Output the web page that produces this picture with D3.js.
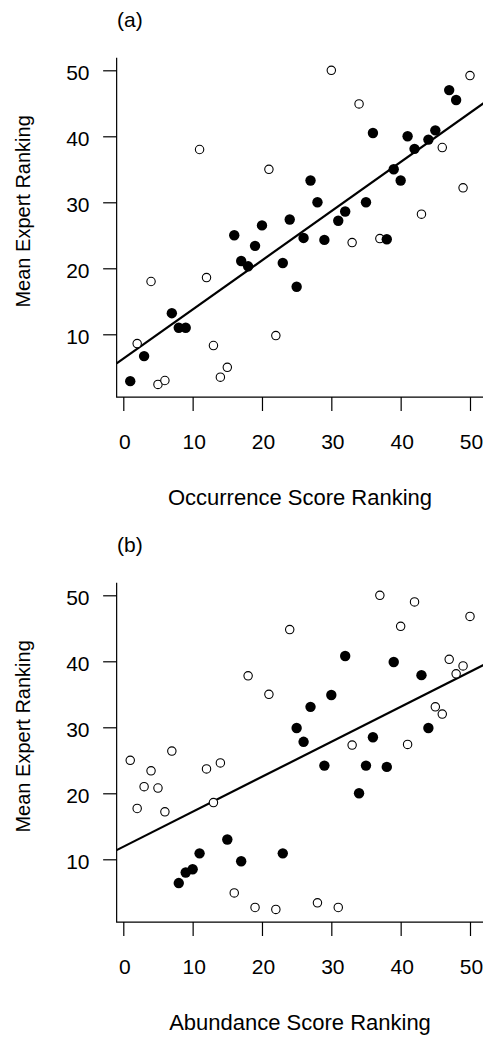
<!DOCTYPE html>
<html>
<head>
<meta charset="utf-8">
<script src="https://cdn.jsdelivr.net/npm/d3@7"></script>
<style>
  html, body { margin: 0; padding: 0; background: #fff; }
  svg { display: block; }
  text { font-family: "Liberation Sans", Arial, Helvetica, sans-serif; fill: #000; }
</style>
</head>
<body>
<svg id="chart" width="483" height="1037"></svg>
<script>
// ---------- data ----------
const xTicks = [0, 10, 20, 30, 40, 50];
const yTicks = [10, 20, 30, 40, 50];

// Panel (a): Occurrence Score Ranking vs Mean Expert Ranking
const occurrenceRank = [1,2,3,4,5,6,7,8,9,11,12,13,14,15,16,17,18,19,20,21,22,23,24,25,
  26,27,28,29,30,31,32,33,34,35,36,37,38,39,40,41,42,43,44,45,46,47,48,49,50];
const expertA = [2.9,8.6,6.7,18.0,2.4,3.0,13.2,11.0,11.0,38.0,18.6,8.3,3.5,5.0,25.0,21.1,20.3,23.4,26.5,35.0,9.8,20.8,27.4,17.2,
  24.6,33.3,30.0,24.3,50.0,27.2,28.6,23.9,44.9,30.0,40.5,24.5,24.4,35.0,33.3,40.0,38.1,28.2,39.5,40.9,38.3,47.0,45.5,32.2,49.2];
const filledA = [1,0,1,0,0,0,1,1,1, 0,0,0,0,0,1,1,1,1,1,0,0,1,1,1,
  1,1,1,1,0,1,1,0,0,1,1,0,1,1,1,1,1,0,1,1,0,1,1,0,0];
const fitA = { intercept: 6.3, slope: 0.745 };

// Panel (b): Abundance Score Ranking vs Mean Expert Ranking
const abundanceRank = [1,2,3,4,5,6,7,8,9,10,11,12,13,14,15,16,17,18,19,21,22,23,24,25,
  26,27,28,29,30,31,32,33,34,35,36,37,38,39,40,41,42,43,44,45,46,47,48,49,50];
const expertB = [25.0,17.7,21.0,23.4,20.8,17.2,26.4,6.4,8.0,8.5,10.9,23.7,18.6,24.6,13.0,4.9,9.7,37.8,2.7,35.0,2.4,10.9,44.8,29.9,
  27.8,33.1,3.4,24.2,34.9,2.7,40.8,27.3,20.0,24.2,28.5,50.0,24.0,39.9,45.3,27.4,49.0,37.9,29.9,33.1,32.0,40.3,38.1,39.3,46.8];
const filledB = [0,0,0,0,0,0,0,1,1,1,1,0,0,0,1,0,1,0,0,0,0,1,0,1,
  1,1,0,1,1,0,1,0,1,1,1,0,1,1,0,0,0,1,1,0,0,0,0,0,0];
const fitB = { intercept: 11.9, slope: 0.53 };

const panels = [
  { label: "(a)", xTitle: "Occurrence Score Ranking", yTitle: "Mean Expert Ranking",
    xs: occurrenceRank, ys: expertA, filled: filledA, fit: fitA, top: 0 },
  { label: "(b)", xTitle: "Abundance Score Ranking", yTitle: "Mean Expert Ranking",
    xs: abundanceRank, ys: expertB, filled: filledB, fit: fitB, top: 525 }
];

// ---------- drawing ----------
const svg = d3.select("#chart");
const x = d3.scaleLinear().domain([0, 50]).range([123.3, 470]);

function padded(ext) {
  const p = (ext[1] - ext[0]) * 0.04;
  return [ext[0] - p, ext[1] + p];
}

panels.forEach(P => {
  const g = svg.append("g");
  const y = d3.scaleLinear().domain([0, 50]).range([400.3 + P.top, 70.3 + P.top]);
  const ux = padded(d3.extent(P.xs));
  const uy = padded(d3.extent(P.ys));
  const left = x(ux[0]), right = x(ux[1]);
  const bottom = y(uy[0]), topY = y(uy[1]);

  // clip for plot region
  const cid = "clip" + P.top;
  svg.append("clipPath").attr("id", cid).append("rect")
    .attr("x", left).attr("y", topY).attr("width", right - left).attr("height", bottom - topY);

  // L-shaped box
  g.append("path")
    .attr("d", `M${left},${topY}V${bottom}H${right}`)
    .attr("fill", "none").attr("stroke", "#000").attr("stroke-width", 1.2);

  // x axis (ticks downward from the box bottom)
  const xAxis = d3.axisBottom(x).tickValues(xTicks).tickSize(14).tickPadding(0).tickFormat(d3.format("d"));
  const gx = g.append("g").attr("transform", `translate(0,${bottom})`).call(xAxis);
  gx.select(".domain").remove();
  gx.selectAll(".tick line").attr("stroke", "#000").attr("stroke-width", 1.2);
  gx.selectAll(".tick text").attr("y", 52).attr("dy", 0).attr("dx", 1)
    .style("font-size", "21px").style("font-family", '"Liberation Sans", Arial, sans-serif');

  // y axis (ticks leftward from the box left)
  const yAxis = d3.axisLeft(y).tickValues(yTicks).tickSize(13.5).tickPadding(0).tickFormat(d3.format("d"));
  const gy = g.append("g").attr("transform", `translate(${left},0)`).call(yAxis);
  gy.select(".domain").remove();
  gy.selectAll(".tick line").attr("stroke", "#000").attr("stroke-width", 1.2);
  gy.selectAll(".tick text").attr("x", -(left - 89.5)).attr("dy", "9.2")
    .style("font-size", "21px").style("font-family", '"Liberation Sans", Arial, sans-serif');

  // regression line
  g.append("line")
    .attr("clip-path", `url(#${cid})`)
    .attr("x1", x(ux[0])).attr("y1", y(P.fit.intercept + P.fit.slope * ux[0]))
    .attr("x2", x(ux[1])).attr("y2", y(P.fit.intercept + P.fit.slope * ux[1]))
    .attr("stroke", "#000").attr("stroke-width", 2.2);

  // points
  const pts = P.xs.map((v, i) => ({ x: v, y: P.ys[i], f: P.filled[i] }));
  g.selectAll("circle.pt").data(pts).enter().append("circle")
    .attr("class", "pt")
    .attr("cx", d => x(d.x)).attr("cy", d => y(d.y))
    .attr("r", d => d.f ? 5.2 : 4.2)
    .attr("fill", d => d.f ? "#000" : "#fff")
    .attr("stroke", "#000").attr("stroke-width", d => d.f ? 0 : 1.1);

  // panel label
  g.append("text").attr("x", 117).attr("y", 26.5 + P.top)
    .style("font-size", "21px").text(P.label);

  // x title
  g.append("text").attr("x", 300).attr("y", bottom + 108).attr("text-anchor", "middle")
    .style("font-size", "22px").text(P.xTitle);

  // y title
  const cy = (topY + bottom) / 2 - 16;
  g.append("text").attr("transform", `translate(29.5,${cy}) rotate(-90)`)
    .attr("text-anchor", "middle").style("font-size", "20px").text(P.yTitle);
});
</script>
</body>
</html>
